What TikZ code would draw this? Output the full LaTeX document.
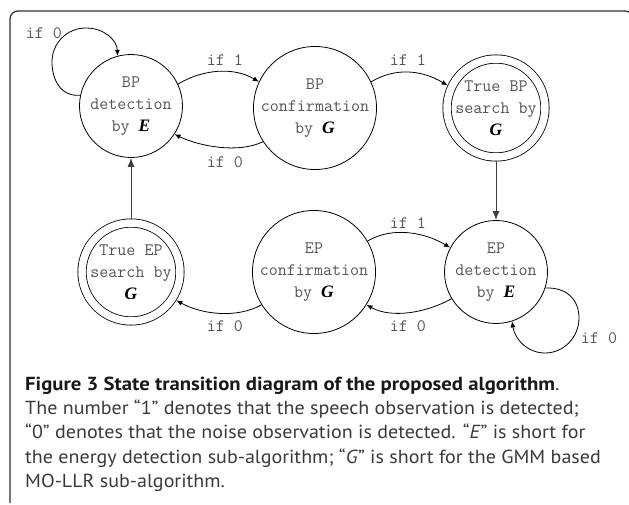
\documentclass[tikz,border=0pt]{standalone}
\usepackage{fontspec}
\usepackage{graphicx}
\usetikzlibrary{arrows.meta}
\newfontfamily\capfont{PT Sans}
\newfontfamily\letterfont{Liberation Serif}
\definecolor{txtgray}{HTML}{555555}
\definecolor{capbody}{HTML}{3A3A3A}
\definecolor{framecol}{HTML}{333333}
\newcommand{\statefnt}{\ttfamily\fontsize{17.5}{22}\selectfont}
\newcommand{\sym}[1]{{\color{black}\letterfont\bfseries\itshape #1}}
\begin{document}
\begin{tikzpicture}[x=1pt,y=-1pt,
  state/.style={circle,draw=black,line width=0.8pt,minimum size=103pt,inner sep=0pt,
    align=center,font=\statefnt,text=txtgray},
  accept/.style={circle,draw=black,line width=0.8pt,double=white,double distance=7.5pt,
    minimum size=95pt,outer sep=4.5pt,inner sep=0pt,align=center,font=\statefnt,text=txtgray},
  conn/.style={-{Latex[length=6pt,width=5pt]},line width=0.8pt},
  vconn/.style={-{Latex[length=9pt,width=7pt]},line width=1pt,draw=black!75},
  lbl/.style={font=\statefnt,text=txtgray,inner sep=0pt}]
\useasboundingbox (0,0) rectangle (629,505);

% outer frame
\draw[line width=1.3pt,draw=framecol,rounded corners=8pt]
  (10,503) -- (10,11) -- (633,11) -- (633,40);

% states
\node[state]  (bpd) at (131,106) {BP\\detection\\by \sym{E}};
\node[state]  (bpc) at (315,108) {BP\\confirmation\\by \sym{G}};
\node[accept] (tbp) at (496,108) {True BP\\search by\\\sym{G}};
\node[accept] (tep) at (131,272) {True EP\\search by\\\sym{G}};
\node[state]  (epc) at (314,272) {EP\\confirmation\\by \sym{G}};
\node[state]  (epd) at (496,272) {EP\\detection\\by \sym{E}};

% transitions on the BP row
\draw[conn] (bpd.25) .. controls +(25,-15) and +(-25,-15) .. (bpc.155);
\draw[conn] (bpc.-147) .. controls +(-25,12) and +(25,12) .. (bpd.-33);
\draw[conn] (bpc.25) .. controls +(25,-15) and +(-25,-15) .. (tbp.155);
\draw[conn] (bpd.168) .. controls (61,97) and (52,80) .. (52,62)
  .. controls (52,43) and (67,28) .. (86,28)
  .. controls (104,28) and (117,40) .. (bpd.105);

% transitions on the EP row
\draw[conn] (epc.30) .. controls +(25,-15) and +(-25,-15) .. (epd.152);
\draw[conn] (epd.-149) .. controls +(-25,14) and +(25,14) .. (epc.-32);
\draw[conn] (epc.-148) .. controls +(-25,14) and +(25,14) .. (tep.-32);
\draw[conn] (epd.-18) .. controls (567,287) and (579,300) .. (579,318)
  .. controls (579,337) and (564,353) .. (545,353)
  .. controls (528,353) and (515,340) .. (epd.-72);

% vertical hand-overs
\draw[vconn] (tbp) -- (epd);
\draw[vconn] (tep) -- (bpd);

% transition labels
\node[lbl] (l1) at (225,60)  {if 1};
\node[lbl] (l2) at (225,162) {if 0};
\node[lbl] (l3) at (408,60)  {if 1};
\node[lbl] (l4) at (44,33)   {if 0};
\node[lbl] (l5) at (408,223) {if 1};
\node[lbl] (l6) at (408,326) {if 0};
\node[lbl] (l7) at (225,326) {if 0};
\node[lbl] (l8) at (599,338) {if 0};

% caption, widened slightly to the column measure
\node[anchor=north west,inner sep=0pt,text=capbody,
  font=\capfont\fontsize{18.9}{24.3}\selectfont] (cap) at (25,373)
  {\scalebox{1.06}[1]{\begin{tabular}{@{}l@{}}
   \scalebox{1.035}[1]{{\color{black!90}\textbf{Figure 3 State transition diagram of the proposed algorithm}}.}\\
   The number “1” denotes that the speech observation is detected;\\
   “0” denotes that the noise observation is detected. “\textit{E}” is short for\\
   the energy detection sub-algorithm; “\textit{G}” is short for the GMM based\\
   MO-LLR sub-algorithm.
  \end{tabular}}};
\end{tikzpicture}
\end{document}
